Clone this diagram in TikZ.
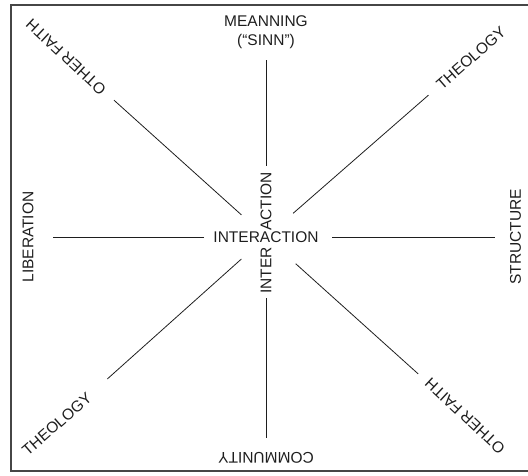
\documentclass[tikz,border=0pt]{standalone}
\usepackage{fontspec}
\setmainfont{Liberation Sans}
\definecolor{encre}{RGB}{30,30,30}
\definecolor{cadre}{RGB}{70,70,70}
\usepackage{tikz}
\usetikzlibrary{arrows.meta,positioning,calc}

\begin{document}
\begin{tikzpicture}[x=1pt,y=1pt,
	lbl/.style={font=\fontsize{15.5}{19}\selectfont,text=encre,inner sep=0pt},
	spoke/.style={draw=encre,line width=0.8pt}]
					\useasboundingbox (0,0) rectangle (528,475);
					\draw[cadre,line width=1.3pt] (11,4) rectangle (531,470);
					% centre
					\node[lbl] (ia) at (266,238){INTERACTION};
					\node[lbl,rotate=90] (iv1) at (266,204.5){INTER};
					\node[lbl,rotate=90] (iv2) at (266,273.3){ACTION};
					% labels round the centre
					\node[lbl,align=center] (mean) at (266,443){MEANNING\\(“SINN”)};
					\node[lbl,rotate=180] (com) at (266,17){COMMUNITY};
					\node[lbl,rotate=90] (lib) at (28,238){LIBERATION};
					\node[lbl,rotate=90] (str) at (515.5,238){STRUCTURE};
					\node[lbl,rotate=137] (ofUL) at (66,418){OTHER FAITH};
					\node[lbl,rotate=41] (thUR) at (471,417){THEOLOGY};
					\node[lbl,rotate=41] (thLL) at (57,51){THEOLOGY};
					\node[lbl,rotate=137] (ofLR) at (465,59){OTHER FAITH};
					% spokes
					\draw[spoke,shorten <=71pt,shorten >=28pt](ia.center)--(mean.center);
					\draw[spoke,shorten <=61pt,shorten >=20pt](ia.center)--(com.center);
					\draw[spoke,shorten <=62pt,shorten >=25pt](ia.center)--(lib.center);
					\draw[spoke,shorten <=66pt,shorten >=20.5pt](ia.center)--(str.center);
					\draw[spoke,shorten <=33pt,shorten >=64.6pt](ia.center)--(ofUL.center);
					\draw[spoke,shorten <=36pt,shorten >=56.4pt](ia.center)--(thUR.center);
					\draw[spoke,shorten <=33pt,shorten >=67.5pt](ia.center)--(thLL.center);
					\draw[spoke,shorten <=40pt,shorten >=63pt](ia.center)--(ofLR.center);
				\end{tikzpicture}
\end{document}
